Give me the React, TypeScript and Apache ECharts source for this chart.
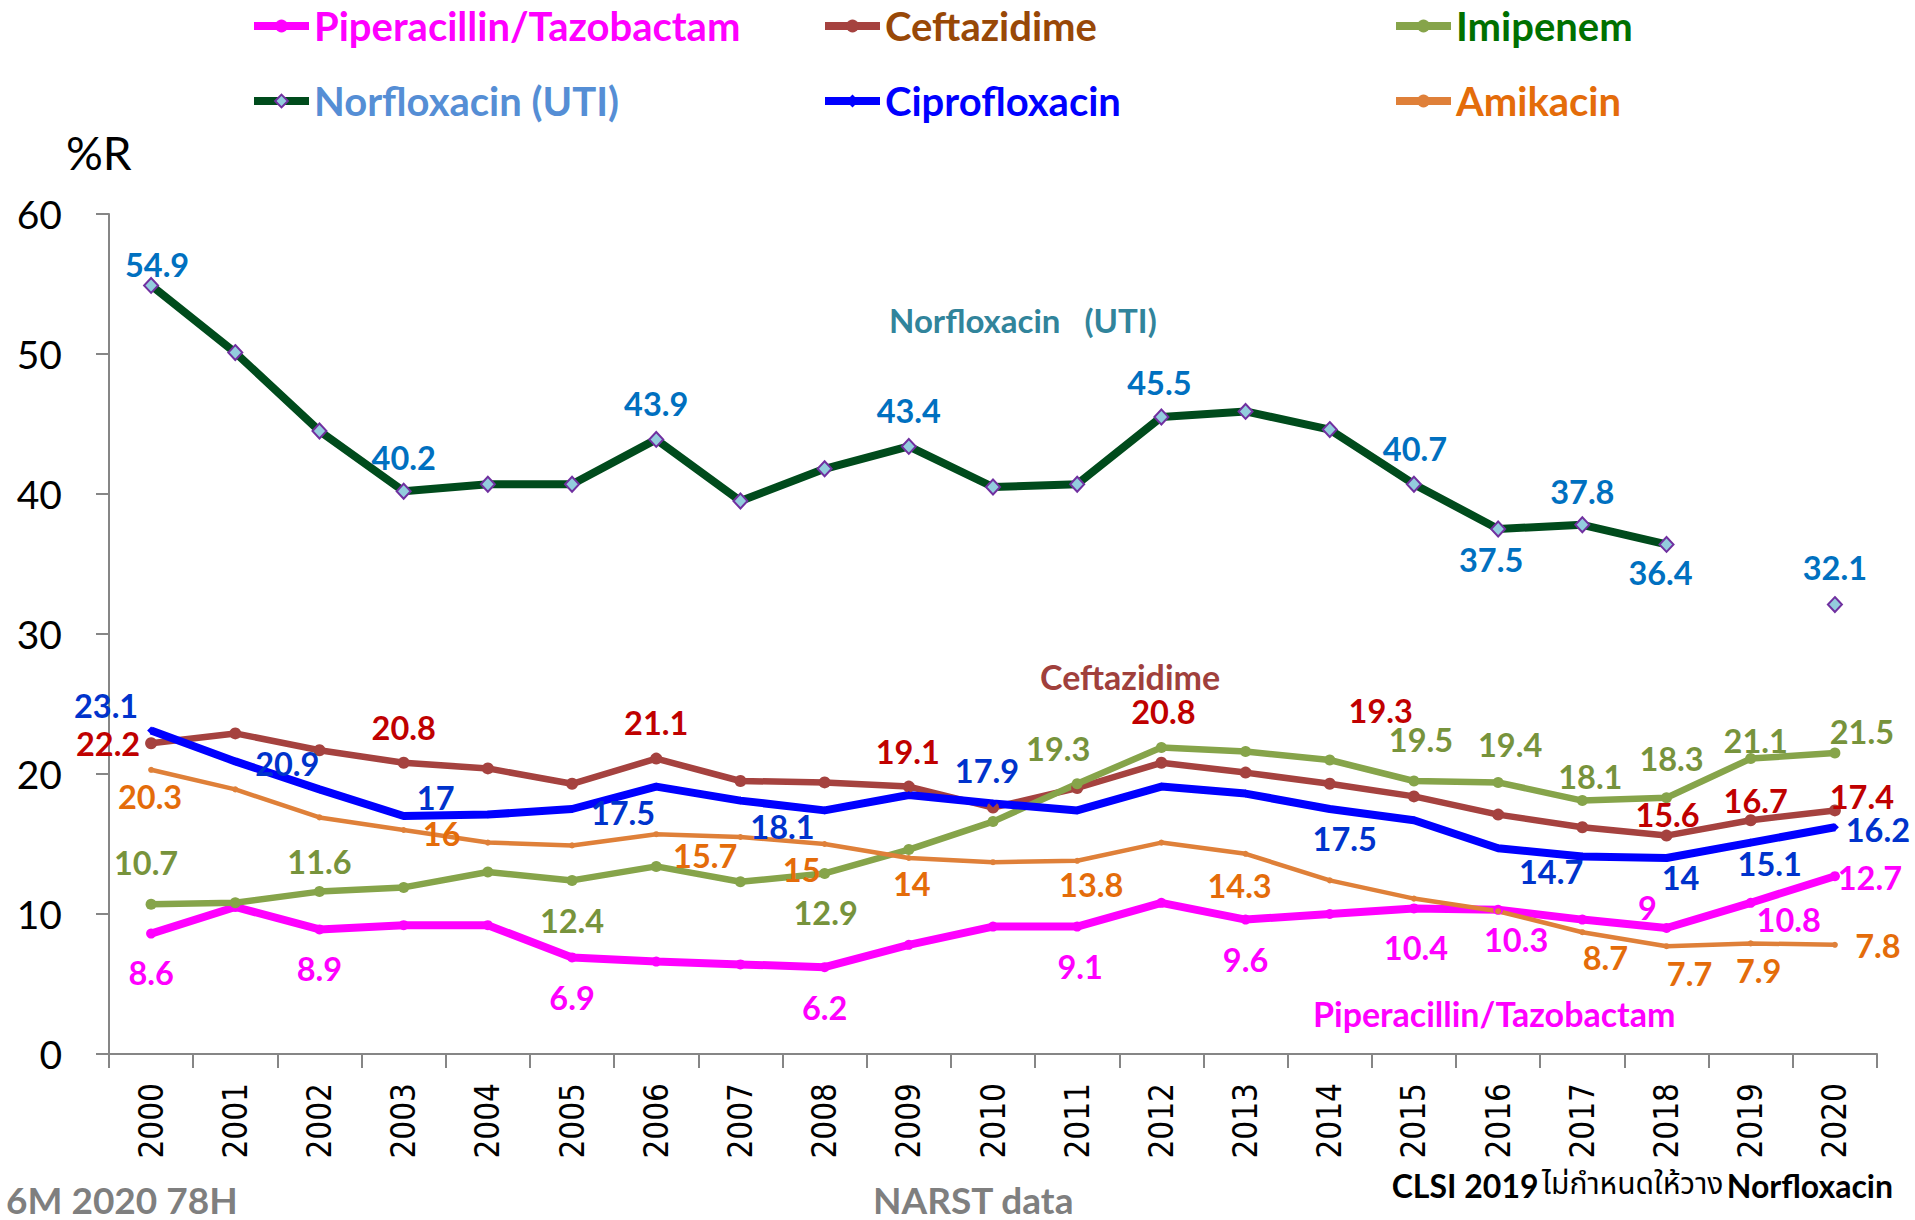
import React, { useEffect, useRef } from "react";
import * as echarts from "echarts";

const years = ["2000","2001","2002","2003","2004","2005","2006","2007","2008","2009","2010","2011","2012","2013","2014","2015","2016","2017","2018","2019","2020"];

const pipTaz = [8.6, 10.5, 8.9, 9.2, 9.2, 6.9, 6.6, 6.4, 6.2, 7.8, 9.1, 9.1, 10.8, 9.6, 10.0, 10.4, 10.3, 9.6, 9, 10.8, 12.7];
const ceftazidime = [22.2, 22.9, 21.7, 20.8, 20.4, 19.3, 21.1, 19.5, 19.4, 19.1, 17.6, 19.0, 20.8, 20.1, 19.3, 18.4, 17.1, 16.2, 15.6, 16.7, 17.4];
const imipenem = [10.7, 10.8, 11.6, 11.9, 13.0, 12.4, 13.4, 12.3, 12.9, 14.6, 16.6, 19.3, 21.9, 21.6, 21.0, 19.5, 19.4, 18.1, 18.3, 21.1, 21.5];
const norfloxacin = [54.9, 50.1, 44.5, 40.2, 40.7, 40.7, 43.9, 39.5, 41.8, 43.4, 40.5, 40.7, 45.5, 45.9, 44.6, 40.7, 37.5, 37.8, 36.4, null, 32.1];
const ciprofloxacin = [23.1, 20.9, 18.9, 17, 17.1, 17.5, 19.1, 18.1, 17.4, 18.5, 17.9, 17.4, 19.1, 18.6, 17.5, 16.7, 14.7, 14.1, 14, 15.1, 16.2];
const amikacin = [20.3, 18.9, 16.9, 16, 15.1, 14.9, 15.7, 15.5, 15, 14, 13.7, 13.8, 15.1, 14.3, 12.4, 11.1, 10.2, 8.7, 7.7, 7.9, 7.8];

// label placement (offset of label centre from the point), null = no label
type Off = [number, number] | null;
const pipLabelOff: Off[] = [[0,39],null,[0,39],null,null,[0,40],null,null,[0,40],null,null,[3,40],null,[0,40],null,[2,39],[18,30],null,[-19,-21],[38,17],[35,1]];
const ceftLabelOff: Off[] = [[-43,0],null,null,[0,-35],null,null,[0,-36],null,null,[-1,-35],null,null,[2,-51],null,[51,-73],null,null,null,[1,-21],[5,-20],[27,-14]];
const imiLabelOff: Off[] = [[-5,-42],null,[0,-30],null,null,[0,40],null,null,[1,39],null,null,[-19,-35],null,null,null,[7,-42],[12,-38],[8,-24],[5,-39],[5,-18],[27,-22]];
const norLabelOff: Off[] = [[6,-21],null,null,[0,-34],null,null,[0,-36],null,null,[0,-36],null,null,[-2,-35],null,null,[1,-36],[-7,30],[0,-33],[-6,28],null,[0,-37]];
const ciproLabelOff: Off[] = [[-45,-25],[52,2],null,[32,-19],null,[51,3],null,[42,26],null,null,[-6,-33],null,null,null,[15,29],null,[53,23],null,[14,19],[19,21],[43,2]];
const amiLabelOff: Off[] = [[-1,27],null,null,[38,3],null,null,[49,21],null,[-23,25],[3,25],null,[14,24],null,[-6,32],null,null,null,[23,25],[23,27],[8,27],[43,1]];

const LATO = "Lato, 'Noto Sans', sans-serif";
const NARROW = "'Liberation Sans Narrow', 'Arial Narrow', 'DejaVu Sans Condensed', sans-serif";

function buildSeries(
  name: string,
  values: (number | null)[],
  offs: Off[],
  lineColor: string,
  labelColor: string,
  width: number,
  symbol: string,
  symbolSize: number | number[],
  itemStyle?: any
) {
  return {
    name,
    type: "line",
    data: values.map((v, i) => {
      const o = offs[i];
      if (v === null) return "-";
      return o ? { value: v, label: { show: true, offset: o } } : { value: v };
    }),
    symbol,
    symbolSize,
    showSymbol: true,
    connectNulls: false,
    lineStyle: { color: lineColor, width },
    itemStyle: itemStyle || { color: lineColor },
    label: {
      show: false,
      position: "inside",
      align: "center",
      verticalAlign: "middle",
      color: labelColor,
      fontFamily: LATO,
      fontWeight: "bold",
      fontSize: 32.5,
    },
    emphasis: { disabled: true },
  };
}

function legendFor(name: string, color: string, left: number, top: number) {
  return {
    data: [{ name, textStyle: { color } }],
    left,
    top,
    padding: 0,
    itemWidth: 55,
    itemHeight: 16,
    itemGap: 0,
    selectedMode: false,
    lineStyle: { width: 8 },
    textStyle: { fontFamily: LATO, fontWeight: "bold", fontSize: 40, lineHeight: 42, color },
  };
}

export default function App() {
  const ref = useRef<HTMLDivElement>(null);
  useEffect(() => {
    if (!ref.current) return;
    const chart = echarts.init(ref.current, undefined, { renderer: "svg" });
    const axisColor = "#868686";
    chart.setOption({
      animation: false,
      backgroundColor: "#ffffff",
      grid: { left: 109, right: 38, top: 214, bottom: 166, containLabel: false },
      legend: [
        legendFor("Piperacillin/Tazobactam", "#FF00FF", 250, 5),
        legendFor("Ceftazidime", "#984807", 821, 5),
        legendFor("Imipenem", "#007000", 1392, 5),
        legendFor("Norfloxacin (UTI)", "#558ED5", 250, 80),
        legendFor("Ciprofloxacin", "#0000FF", 821, 80),
        legendFor("Amikacin", "#E46C0A", 1392, 80),
      ],
      xAxis: {
        type: "category",
        data: years,
        boundaryGap: true,
        axisLine: { show: true, lineStyle: { color: axisColor, width: 2 } },
        axisTick: { show: true, length: 14, lineStyle: { color: axisColor, width: 2 } },
        axisLabel: { rotate: 90, margin: 29, fontSize: 33, fontFamily: NARROW, color: "#000" },
        splitLine: { show: false },
      },
      yAxis: {
        type: "value",
        min: 0,
        max: 60,
        interval: 10,
        axisLine: { show: true, lineStyle: { color: axisColor, width: 2 } },
        axisTick: { show: true, length: 13, lineStyle: { color: axisColor, width: 2 } },
        axisLabel: { fontSize: 39, fontFamily: LATO, color: "#000", margin: 47 },
        splitLine: { show: false },
      },
      series: [
        buildSeries("Piperacillin/Tazobactam", pipTaz, pipLabelOff, "#FF00FF", "#FF00FF", 8, "circle", 10),
        buildSeries("Ceftazidime", ceftazidime, ceftLabelOff, "#A5423F", "#C00000", 6.5, "circle", 12),
        buildSeries("Imipenem", imipenem, imiLabelOff, "#86A44A", "#77933C", 6.5, "circle", 11),
        buildSeries("Norfloxacin (UTI)", norfloxacin, norLabelOff, "#004B1C", "#0070C0", 8, "diamond", [14, 15], {
          color: "#93CDDD",
          borderColor: "#7030A0",
          borderWidth: 2,
        }),
        buildSeries("Ciprofloxacin", ciprofloxacin, ciproLabelOff, "#0000FF", "#0033CC", 8, "diamond", 8),
        buildSeries("Amikacin", amikacin, amiLabelOff, "#DF8039", "#E46C0A", 4.5, "circle", 6),
      ],
      graphic: [
        { type: "text", x: 66, y: 152, style: { text: "%R", fill: "#000", font: `46px ${LATO}`, verticalAlign: "middle" } },
        { type: "text", x: 889, y: 320, style: { text: "Norfloxacin   (UTI)", fill: "#31849B", font: `bold 33px ${LATO}`, verticalAlign: "middle" } },
        { type: "text", x: 1040, y: 676, style: { text: "Ceftazidime", fill: "#A0403C", font: `bold 34px ${LATO}`, verticalAlign: "middle" } },
        { type: "text", x: 1313, y: 1013, style: { text: "Piperacillin/Tazobactam", fill: "#FF00FF", font: `bold 34px ${LATO}`, verticalAlign: "middle" } },
        { type: "text", x: 6, y: 1199, style: { text: "6M 2020 78H", fill: "#7F7F7F", font: `bold 37px ${LATO}`, verticalAlign: "middle" } },
        { type: "text", x: 873, y: 1199, style: { text: "NARST data", fill: "#7F7F7F", font: `bold 37px ${LATO}`, verticalAlign: "middle" } },
        {
          type: "text",
          x: 1893,
          y: 1185,
          style: {
            text: "{b|CLSI 2019} {t|ไม่กำหนดให้วาง} {b|Norfloxacin}",
            align: "right",
            verticalAlign: "middle",
            rich: {
              b: { fontFamily: LATO, fontWeight: "bold", fontSize: 32, fill: "#000", color: "#000" },
              t: { fontFamily: "'Noto Sans Thai', 'Noto Sans', Lato, sans-serif", fontSize: 30, fill: "#000", color: "#000" },
            },
          },
        },
      ],
    });
    return () => chart.dispose();
  }, []);
  return <div ref={ref} style={{ position: "absolute", left: 0, top: 0, width: 1915, height: 1220 }} />;
}
